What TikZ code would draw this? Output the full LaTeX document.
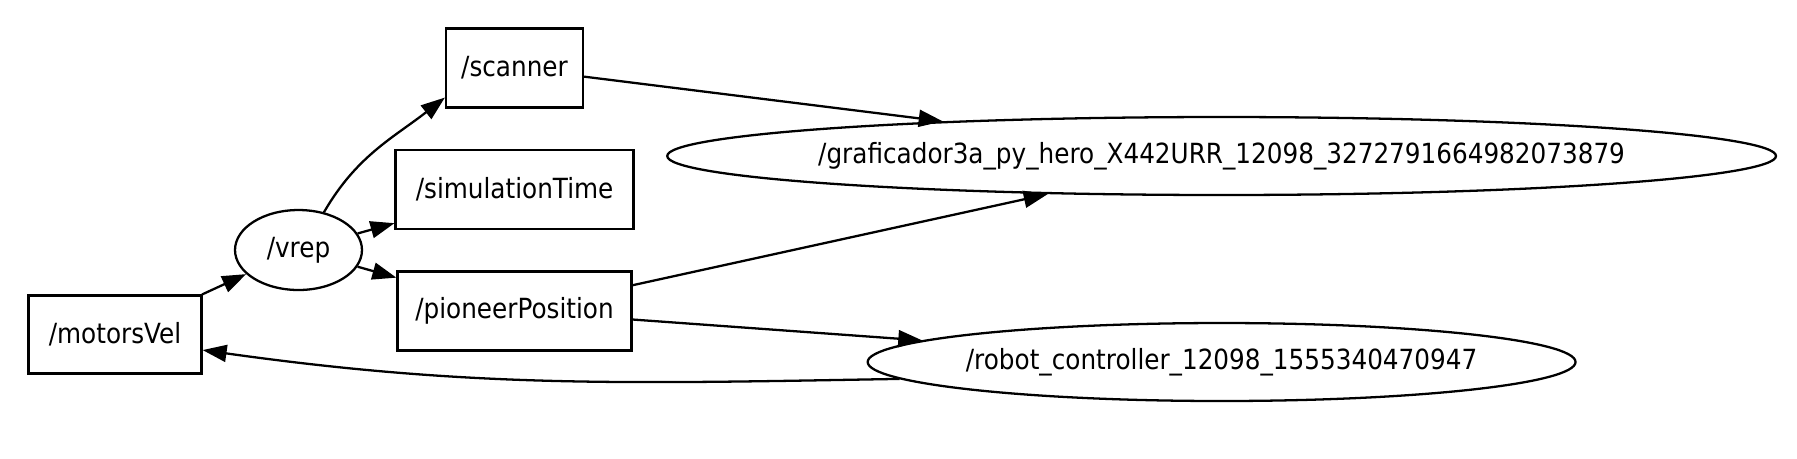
\documentclass[tikz,border=0pt]{standalone}
\usepackage{fontspec}
\setmainfont{DejaVu Sans}[FakeStretch=0.89]
\usetikzlibrary{arrows.meta, shapes, calc}

\begin{document}
\begin{tikzpicture}[
    x=0.02cm, y=-0.02cm,
    topic/.style={rectangle, draw=black, line width=1.3pt, minimum height=1.58cm},
    rosnode/.style={ellipse, draw=black, line width=1.3pt, inner sep=0pt, minimum height=1.56cm},
    arrow/.style={-{Triangle[length=0.48cm, width=0.34cm]}, line width=1.3pt},
    every node/.style={font=\fontsize{15.8}{18}\selectfont}
]
\useasboundingbox (0,0) rectangle (1797,458);

% Topics and nodes
\node[topic, minimum width=3.46cm, minimum height=1.56cm] (motorsVel) at (115,334.6) {/motorsVel};
\node[rosnode, minimum width=2.54cm, minimum height=1.6cm] (vrep) at (298.5,250) {/vrep};
\node[topic, minimum width=2.74cm] (scanner) at (514.5,68) {/scanner};
\node[topic, minimum width=4.76cm] (simTime) at (514.6,189.7) {/simulationTime};
\node[topic, minimum width=4.68cm] (pioneer) at (514.5,311) {/pioneerPosition};
\node[rosnode, minimum width=22.18cm, label=center:{/graficador3a\_py\_hero\_X442URR\_12098\_3272791664982073879}] (graf) at (1221.6,156) {};
\node[rosnode, minimum width=14.16cm, label=center:{/robot\_controller\_12098\_1555340470947}] (robot) at (1221.6,362) {};

% Connections
\draw[arrow] (motorsVel) -- (vrep);
\draw[arrow] (vrep.56) to[out=60, in=218] (scanner.203);
\draw[arrow] (vrep) -- (simTime);
\draw[arrow] (vrep) -- (pioneer);
\draw[arrow] (scanner) -- (graf);
\draw[arrow] (pioneer) -- (graf);
\draw[arrow] (pioneer) -- (robot);
\draw[arrow] (robot.183) to[out=181, in=-8] (motorsVel.350);

\end{tikzpicture}
\end{document}
